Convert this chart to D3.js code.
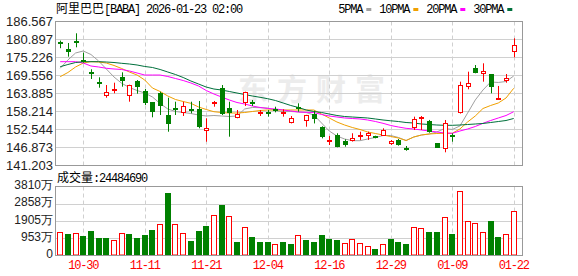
<!DOCTYPE html>
<html>
<head>
<meta charset="utf-8">
<script src="https://d3js.org/d3.v7.min.js"></script>
<style>
  body { margin: 0; background: #fff; }
  svg { display: block; }
</style>
</head>
<body>
<div id="chart"></div>
<script>
// trading days shown
const dates = ["10-27","10-28","10-29","10-30","10-31","11-03","11-04","11-05","11-06","11-07",
  "11-10","11-11","11-12","11-13","11-14","11-17","11-18","11-19","11-20","11-21",
  "11-24","11-25","11-26","11-28","12-01","12-02","12-03","12-04","12-05","12-08",
  "12-09","12-10","12-11","12-12","12-15","12-16","12-17","12-18","12-19","12-22",
  "12-23","12-24","12-26","12-29","12-30","12-31","01-02","01-05","01-06","01-07",
  "01-08","01-09","01-12","01-13","01-14","01-15","01-16","01-20","01-21","01-22"]

const open = [180.05,177.65,180.3,174.3,170.6,167.45,162.85,165.0,169.02,162.94,
  167.67,164.52,160.95,163.98,156.95,159.2,157.6,158.95,158.85,152.0,
  160.7,165.37,159.06,156.1,160.64,160.9,157.6,157.95,158.95,157.8,
  154.53,159.35,155.16,157.17,153.27,148.75,150.65,148.76,148.86,150.4,
  150.43,150.2,150.43,147.82,149.08,146.55,152.76,155.9,155.07,148.04,
  146.24,150.55,157.49,165.68,171.67,169.87,169.87,162.1,167.77,176.7]
const high = [180.4,179.64,182.69,176.58,171.35,168.83,166.4,167.13,170.4,166.5,
  167.98,165.15,161.0,164.29,162.4,161.14,161.14,161.14,161.37,155.92,
  161.37,166.4,161.14,158.53,164.3,161.68,158.53,158.53,159.57,158.74,
  156.64,160.64,157.0,158.3,153.4,150.34,151.2,149.3,151.2,151.7,
  151.7,150.43,152.76,149.08,149.4,147.19,156.43,156.64,155.4,148.04,
  155.38,151.18,167.45,170.6,172.7,173.24,169.87,166.1,169.87,181.12]
const low = [178.0,175.32,178.28,173.43,168.3,165.55,162.4,163.79,165.87,161.15,
  163.66,160.1,156.23,156.95,151.69,156.95,156.64,157.49,152.76,148.54,
  159.57,156.95,150.12,155.92,159.79,159.79,156.64,156.43,157.8,156.43,
  154.3,158.0,153.27,154.3,149.6,147.5,146.78,146.97,148.6,149.1,
  149.1,149.6,150.43,147.5,147.3,145.7,152.23,152.23,151.38,146.65,
  145.2,148.54,157.4,165.05,170.09,167.45,163.79,161.9,167.13,175.13]
const close = [179.95,176.8,179.95,174.1,170.4,167.25,164.2,165.2,167.67,166.4,
  165.78,160.83,157.8,159.88,154.02,159.0,159.79,158.85,153.27,152.76,
  160.9,157.27,157.49,157.27,164.29,160.75,157.9,157.8,158.85,158.0,
  156.1,159.25,156.95,155.6,150.12,148.95,146.97,147.5,149.6,150.7,
  151.2,150.1,152.23,148.77,147.5,146.47,155.6,156.2,151.7,146.65,
  154.34,150.3,166.4,166.94,170.09,170.9,165.87,162.4,168.5,179.0]
const prevClose = 179.5

const volume = [12920000,11980000,12370000,10880000,13640000,9770000,9770000,8500000,12370000,11980000,
  9770000,11430000,14190000,17340000,34620000,17340000,12370000,8120000,13640000,16400000,
  22470000,27610000,21920000,7730000,15850000,10490000,7180000,7180000,6460000,7730000,
  6460000,11430000,8670000,7180000,11430000,9220000,8670000,6850000,9220000,6850000,
  5360000,3700000,6460000,9220000,7180000,6460000,15850000,15300000,13090000,13090000,
  21370000,11980000,35730000,19160000,18060000,13090000,19160000,10490000,11980000,24484690]

const ma5 = [171.67,174.28,176.49,177.12,176.01,173.97,171.45,168.93,166.94,165.62,
  164.67,163.88,162.63,160.58,158.85,158.06,157.74,157.43,156.95,156.64,
  156.8,156.64,156.48,156.64,158.85,159.32,159.26,159.16,158.37,157.99,
  158.06,157.9,157.74,156.95,154.43,151.91,150.34,149.39,148.86,148.86,
  149.39,149.87,150.5,150.5,149.87,148.92,150.02,150.65,150.97,151.6,
  152.7,152.39,153.49,157.55,161.68,164.83,167.35,167.2,167.51,169.24]
const ma10 = [169.02,170.34,172.08,173.33,173.75,173.65,173.33,172.55,171.6,170.5,
  169.55,167.98,165.46,164.36,162.94,161.84,161.2,160.64,159.47,158.69,
  157.99,157.74,157.58,157.58,157.74,158.06,158.37,158.53,158.53,158.53,
  158.53,158.53,158.53,158.53,157.27,156.01,154.75,153.8,153.02,152.39,
  151.6,151.13,150.65,150.18,149.71,148.92,150.02,150.65,150.97,151.13,
  151.19,151.19,152.54,154.75,156.64,159.0,159.95,160.74,162.31,165.37]
const ma20 = [173.75,173.75,173.75,173.33,172.39,172.08,171.67,171.45,171.29,170.82,
  170.19,169.55,169.55,169.55,169.08,168.45,167.82,167.04,166.09,164.67,
  163.57,162.62,161.68,160.89,160.42,159.79,159.32,159.0,158.85,158.53,
  158.22,157.9,157.8,157.74,157.11,156.64,156.32,156.01,155.85,155.7,
  155.38,154.91,154.34,153.65,153.17,152.76,152.54,152.23,151.91,151.6,
  151.28,151.19,151.91,152.54,153.33,154.34,155.22,156.01,156.79,157.99]
const ma30 = [172.17,172.86,173.49,173.75,173.75,173.75,173.65,173.49,173.24,173.02,
  172.71,172.24,171.92,171.29,170.5,169.71,168.77,167.67,166.72,165.76,
  165.14,164.83,164.36,163.88,163.41,162.94,162.53,162.09,161.52,160.74,
  159.95,159.32,158.53,158.06,157.74,157.27,156.8,156.48,156.32,156.17,
  156.01,155.7,155.38,155.13,154.9,154.59,154.43,154.12,153.96,153.8,
  153.71,153.71,153.8,153.96,154.12,154.28,154.59,154.9,155.22,155.86]

const priceTicks = [141.203,146.873,152.544,158.214,163.885,169.556,175.226,180.897,186.567]
const volumeTicks = [0,9525000,19050000,28575000,38100000]
const dateLabels = ["10-30","11-11","11-21","12-04","12-16","12-29","01-09","01-22"]
const maNames = ["5PMA","10PMA","20PMA","30PMA"]

function draw(el) {
  const dims = {
    width: 578, height: 276,
    left: 55.5, right: 522.5,
    priceTop: 21.5, priceBottom: 165.5,
    volTop: 186.5, volBottom: 255.5
  }
  const up = "#ff0000", down = "#008000", grid = "#d0d0d0", frame = "#999"
  const maColors = ["#a0a0a0", "#f0a000", "#ff00ff", "#00703c"]
  const mono = "'Liberation Mono', 'DejaVu Sans Mono', monospace"
  const cjk = "'Noto Sans CJK SC', sans-serif"

  const svg = d3.select(el).append("svg")
    .attr("width", dims.width)
    .attr("height", dims.height)

  const x = d3.scalePoint().domain(dates).range([60.2, 513.7])
  const y = d3.scaleLinear().domain([141.203, 186.567]).range([165, 21])
  const yv = d3.scaleLinear().domain([0, 38100000]).range([dims.volBottom, dims.volTop])

  // watermark
  svg.append("text")
    .attr("x", 238).attr("y", 100)
    .attr("font-family", cjk).attr("font-size", 30).attr("font-weight", "bold")
    .attr("letter-spacing", 9)
    .attr("fill", "#ececec")
    .text("东方财富")

  // grid
  svg.append("g").selectAll("line")
    .data(priceTicks.slice(1, -1))
    .join("line")
    .attr("x1", dims.left).attr("x2", dims.right)
    .attr("y1", d => Math.round(y(d)) + 0.5).attr("y2", d => Math.round(y(d)) + 0.5)
    .attr("stroke", grid)
  svg.append("g").selectAll("line")
    .data(volumeTicks.slice(1, -1))
    .join("line")
    .attr("x1", dims.left).attr("x2", dims.right)
    .attr("y1", d => Math.round(yv(d)) + 0.5).attr("y2", d => Math.round(yv(d)) + 0.5)
    .attr("stroke", grid)
  const vgrid = svg.append("g")
  dateLabels.forEach(d => {
    const gx = Math.round(x(d)) + 0.5
    ;[[dims.priceTop, dims.priceBottom], [dims.volTop, dims.volBottom]].forEach(([a, b]) => {
      vgrid.append("line")
        .attr("x1", gx).attr("x2", gx).attr("y1", a).attr("y2", b)
        .attr("stroke", grid).attr("stroke-dasharray", "4,3")
    })
  })

  // moving averages
  const line = d3.line().x((d, i) => x(dates[i])).y(d => y(d))
  ;[ma5, ma10, ma20, ma30].forEach((ma, k) => {
    svg.append("path")
      .attr("d", line(ma))
      .attr("fill", "none")
      .attr("stroke", maColors[k])
      .attr("stroke-width", 1)
  })

  // candles
  const candles = svg.append("g")
  dates.forEach((d, i) => {
    const cx = Math.round(x(d))
    const rising = close[i] > open[i]
    const col = rising ? up : down
    const top = Math.round(y(Math.max(open[i], close[i])))
    const bot = Math.round(y(Math.min(open[i], close[i])))
    candles.append("line")
      .attr("x1", cx + 0.5).attr("x2", cx + 0.5)
      .attr("y1", y(high[i])).attr("y2", y(low[i]))
      .attr("stroke", col)
    if (rising) {
      candles.append("rect")
        .attr("x", cx - 2 + 0.5).attr("y", top + 0.5)
        .attr("width", 5 - 1).attr("height", Math.max(bot - top - 1, 1))
        .attr("fill", "#fff").attr("stroke", col)
    } else {
      candles.append("rect")
        .attr("x", cx - 2).attr("y", top)
        .attr("width", 5).attr("height", Math.max(bot - top, 2))
        .attr("fill", col)
    }
  })

  // volume bars
  const bars = svg.append("g")
  dates.forEach((d, i) => {
    const cx = Math.round(x(d))
    const pc = i === 0 ? prevClose : close[i - 1]
    const rising = close[i] >= pc
    const ty = Math.round(yv(volume[i]))
    if (rising) {
      bars.append("rect")
        .attr("x", cx - 2.5).attr("y", ty + 0.5)
        .attr("width", 5).attr("height", dims.volBottom - ty - 1)
        .attr("fill", "#fff").attr("stroke", up)
    } else {
      bars.append("rect")
        .attr("x", cx - 3).attr("y", ty)
        .attr("width", 6).attr("height", dims.volBottom - ty)
        .attr("fill", down)
    }
  })

  // frames
  ;[[dims.priceTop, dims.priceBottom], [dims.volTop, dims.volBottom]].forEach(([a, b]) => {
    svg.append("rect")
      .attr("x", dims.left).attr("y", a)
      .attr("width", dims.right - dims.left).attr("height", b - a)
      .attr("fill", "none").attr("stroke", frame)
  })

  // axis labels
  svg.append("g").selectAll("text")
    .data(priceTicks)
    .join("text")
    .attr("x", 53).attr("y", d => y(d))
    .attr("dy", "0.35em")
    .attr("text-anchor", "end")
    .attr("font-family", "'Liberation Sans', Arial, sans-serif").attr("font-size", 13)
    .attr("fill", "#222")
    .text(d => d.toFixed(3))
  svg.append("g").selectAll("text")
    .data(volumeTicks)
    .join("text")
    .attr("x", 53).attr("y", d => yv(d) - 1.5)
    .attr("dy", "0.35em")
    .attr("text-anchor", "end")
    .attr("font-family", "'Liberation Sans', Arial, sans-serif").attr("font-size", 12)
    .attr("fill", "#222")
    .text(d => d === 0 ? "0" : Math.round(d / 1e4) + "万")
  svg.append("g").selectAll("text")
    .data(dateLabels)
    .join("text")
    .attr("x", d => x(d)).attr("y", 268.5)
    .attr("text-anchor", "middle")
    .attr("font-family", mono).attr("font-size", 12).attr("letter-spacing", -1.2)
    .attr("fill", "#ff0000")
    .text(d => d)

  // title
  const title = svg.append("text").attr("x", 56).attr("y", 13).attr("font-size", 12).attr("fill", "#000")
  title.append("tspan").attr("font-family", cjk).text("阿里巴巴")
  title.append("tspan").attr("font-family", mono).attr("letter-spacing", -1.2).text("[BABA] 2026-01-23 02:00")

  // legend
  let lx = 338.3
  maNames.forEach((n, k) => {
    svg.append("text")
      .attr("x", lx).attr("y", 13)
      .attr("font-family", mono).attr("font-size", 12).attr("letter-spacing", -1.2)
      .attr("fill", "#000")
      .text(n)
    const bx = lx + n.length * 6 + 4
    svg.append("rect")
      .attr("x", bx).attr("y", 8).attr("width", 5).attr("height", 3)
      .attr("fill", maColors[k])
    lx = bx + 5 + 8
  })

  // volume header
  const vt = svg.append("text").attr("x", 57).attr("y", 181.5).attr("font-size", 12).attr("fill", "#000")
  vt.append("tspan").attr("font-family", cjk).text("成交量")
  vt.append("tspan").attr("font-family", mono).attr("letter-spacing", -1.2).text(":" + volume[volume.length - 1])
}

draw("#chart")
</script>
</body>
</html>
